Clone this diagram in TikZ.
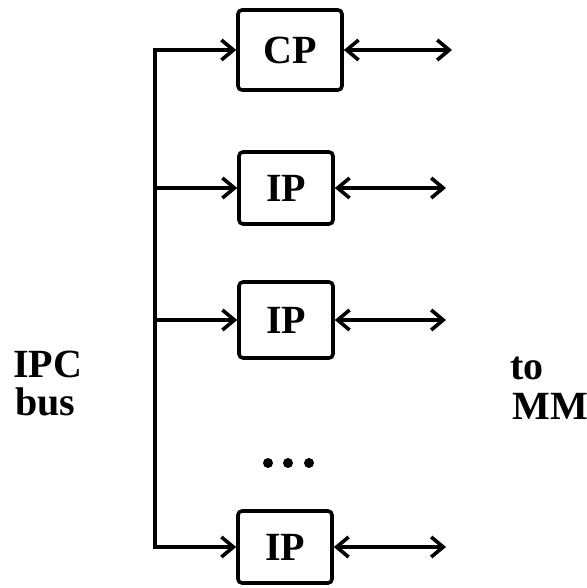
\documentclass[tikz,border=0pt]{standalone}
\usepackage{fontspec}
\setmainfont{Liberation Serif}
\usetikzlibrary{arrows.meta, positioning}

\begin{document}
\begin{tikzpicture}[
    x=0.5pt, y=-0.5pt,
    font=\fontsize{20}{24}\selectfont\bfseries,
    box/.style={
        rectangle,
        rounded corners=2pt,
        minimum width=47pt,
        minimum height=36pt,
        inner sep=0pt,
        draw=black,
        line width=1.8pt
    },
    lbl/.style={
        anchor=base west,
        inner sep=0pt
    },
    wire/.style={
        line width=1.8pt,
        line cap=rect
    },
    arrow/.style={
        -{Straight Barb[length=6pt, width=10pt, line width=1.8pt]},
        line width=1.8pt
    },
    link/.style={
        {Straight Barb[length=6pt, width=10pt, line width=1.8pt]}-{Straight Barb[length=6pt, width=10pt, line width=1.8pt]},
        line width=1.8pt
    }
]
\useasboundingbox (0,0) rectangle (587,588);

% Processors
\node[box, minimum width=52pt, minimum height=40pt] (cp) at (290,50) {CP};
\node[box]                      (ip1) at (286,188) {IP};
\node[box, minimum height=38pt] (ip2) at (286,320) {IP};
\node[box]                      (ipn) at (285,547) {IP};

% Dots between processors
\foreach \x in {268,288,309}
    \fill (\x,463) circle (2.5pt);

% Side labels
\node[lbl] (ipc) at (13,377) {IPC};
\node[lbl] (bus) at (15,415) {bus};
\node[lbl] (to)  at (510,379) {to};
\node[lbl] (mm)  at (512,419) {MM};

% Bus and free ends
\coordinate (bx) at (155,0);
\coordinate (m0) at (452,50);
\coordinate (m1) at (446,188);
\coordinate (m2) at (446,320);
\coordinate (mn) at (446,547);

% Arrows
\draw[wire]  (bx |- cp) -- (bx |- ipn);
\draw[arrow] (bx |- cp)  -- (cp);
\draw[arrow] (bx |- ip1) -- (ip1);
\draw[arrow] (bx |- ip2) -- (ip2);
\draw[arrow] (bx |- ipn) -- (ipn);

\draw[link] (cp)  -- (m0);
\draw[link] (ip1) -- (m1);
\draw[link] (ip2) -- (m2);
\draw[link] (ipn) -- (mn);

\end{tikzpicture}
\end{document}
